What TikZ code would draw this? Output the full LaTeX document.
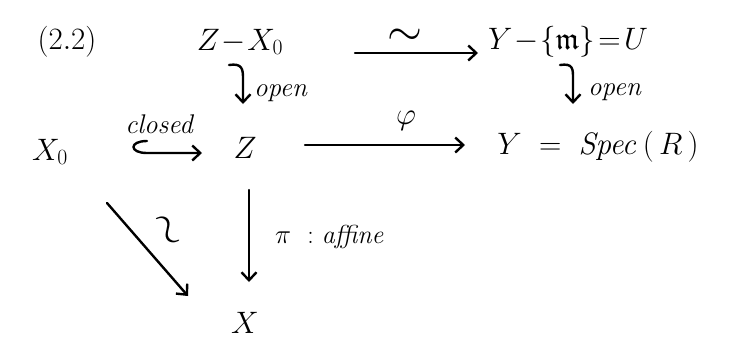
\RequirePackage{fix-cm}
\documentclass[tikz,border=0pt]{standalone}
\usepackage{amsmath,amssymb}
\usetikzlibrary{arrows.meta,calc}
\begin{document}
\begin{tikzpicture}[x=1pt,y=-1pt,
  every node/.style={inner sep=0pt},
  obj/.style={font=\fontsize{31}{36}\selectfont},
  lab/.style={font=\fontsize{27}{30}\selectfont\itshape},
  arr/.style={line width=2.4pt, line cap=round, -{Straight Barb[length=8pt,width=15pt,line width=2.4pt]}}]
\useasboundingbox[fill=white] (0,0) rectangle (734,346);
% objects
\node[obj] (num) at (67,42) {$(2.2)$};
\node[obj] (zx) at (240,42) {$\medmuskip=1mu Z - X_0$};
\node[obj] (u) at (568,42) {$\medmuskip=1mu\thickmuskip=2mu Y - \{\mathfrak{m}\} = U$};
\node[obj] (x0) at (50,152) {$X_0$};
\node[obj] (z) at (245,148) {$Z$};
\node[obj] (y) at (598,147) {$Y \;=\; \mathit{Spec}\,(\,R\,)$};
\node[obj] (x) at (245,323) {$X$};
% top arrow
\draw[arr] ($(zx.center)+(115,11)$) -- ($(u.center)+(-90,11)$);
\node[font=\fontsize{45}{45}\selectfont] (iso) at (405,37) {$\sim$};
% open inclusions
\draw[arr] ($(zx.center)+(-11,23)$) .. controls +(13,-2) and +(0,-9) .. ($(zx.center)+(3,36)$) -- ($(z.center)+(-2,-44)$);
\node[lab,anchor=west] (op1) at (254,93) {open};
\draw[arr] ($(u.center)+(-8,23)$) .. controls +(13,-2) and +(0,-9) .. ($(u.center)+(5,36)$) -- ($(y.center)+(-25,-43)$);
\node[lab,anchor=west] (op2) at (588,92) {open};
% closed inclusion
\draw[arr] ($(x0.center)+(97,-11)$) .. controls +(-18,0) and +(-18,0) .. ($(x0.center)+(97,1)$) -- ($(z.center)+(-43,5)$);
\node[lab] (cl) at (159,124) {closed};
% phi
\draw[arr] ($(z.center)+(60,-3)$) -- ($(y.center)+(-133,-2)$);
\node[obj] (phi) at (406,121) {$\varphi$};
% pi
\draw[arr] ($(z.center)+(4,42)$) -- ($(x.center)+(4,-41)$);
\node[anchor=west] (pil) at (275,237) {\fontsize{27}{30}\selectfont$\pi$\ \ \fontsize{26}{30}\selectfont :\ \textit{affine}};
% diagonal
\draw[arr] ($(x0.center)+(57,51)$) -- ($(x.center)+(-57,-27)$);
\node[rotate=-62,font=\fontsize{46}{46}\selectfont] (iso2) at (165,231) {$\sim$};
\end{tikzpicture}
\end{document}
